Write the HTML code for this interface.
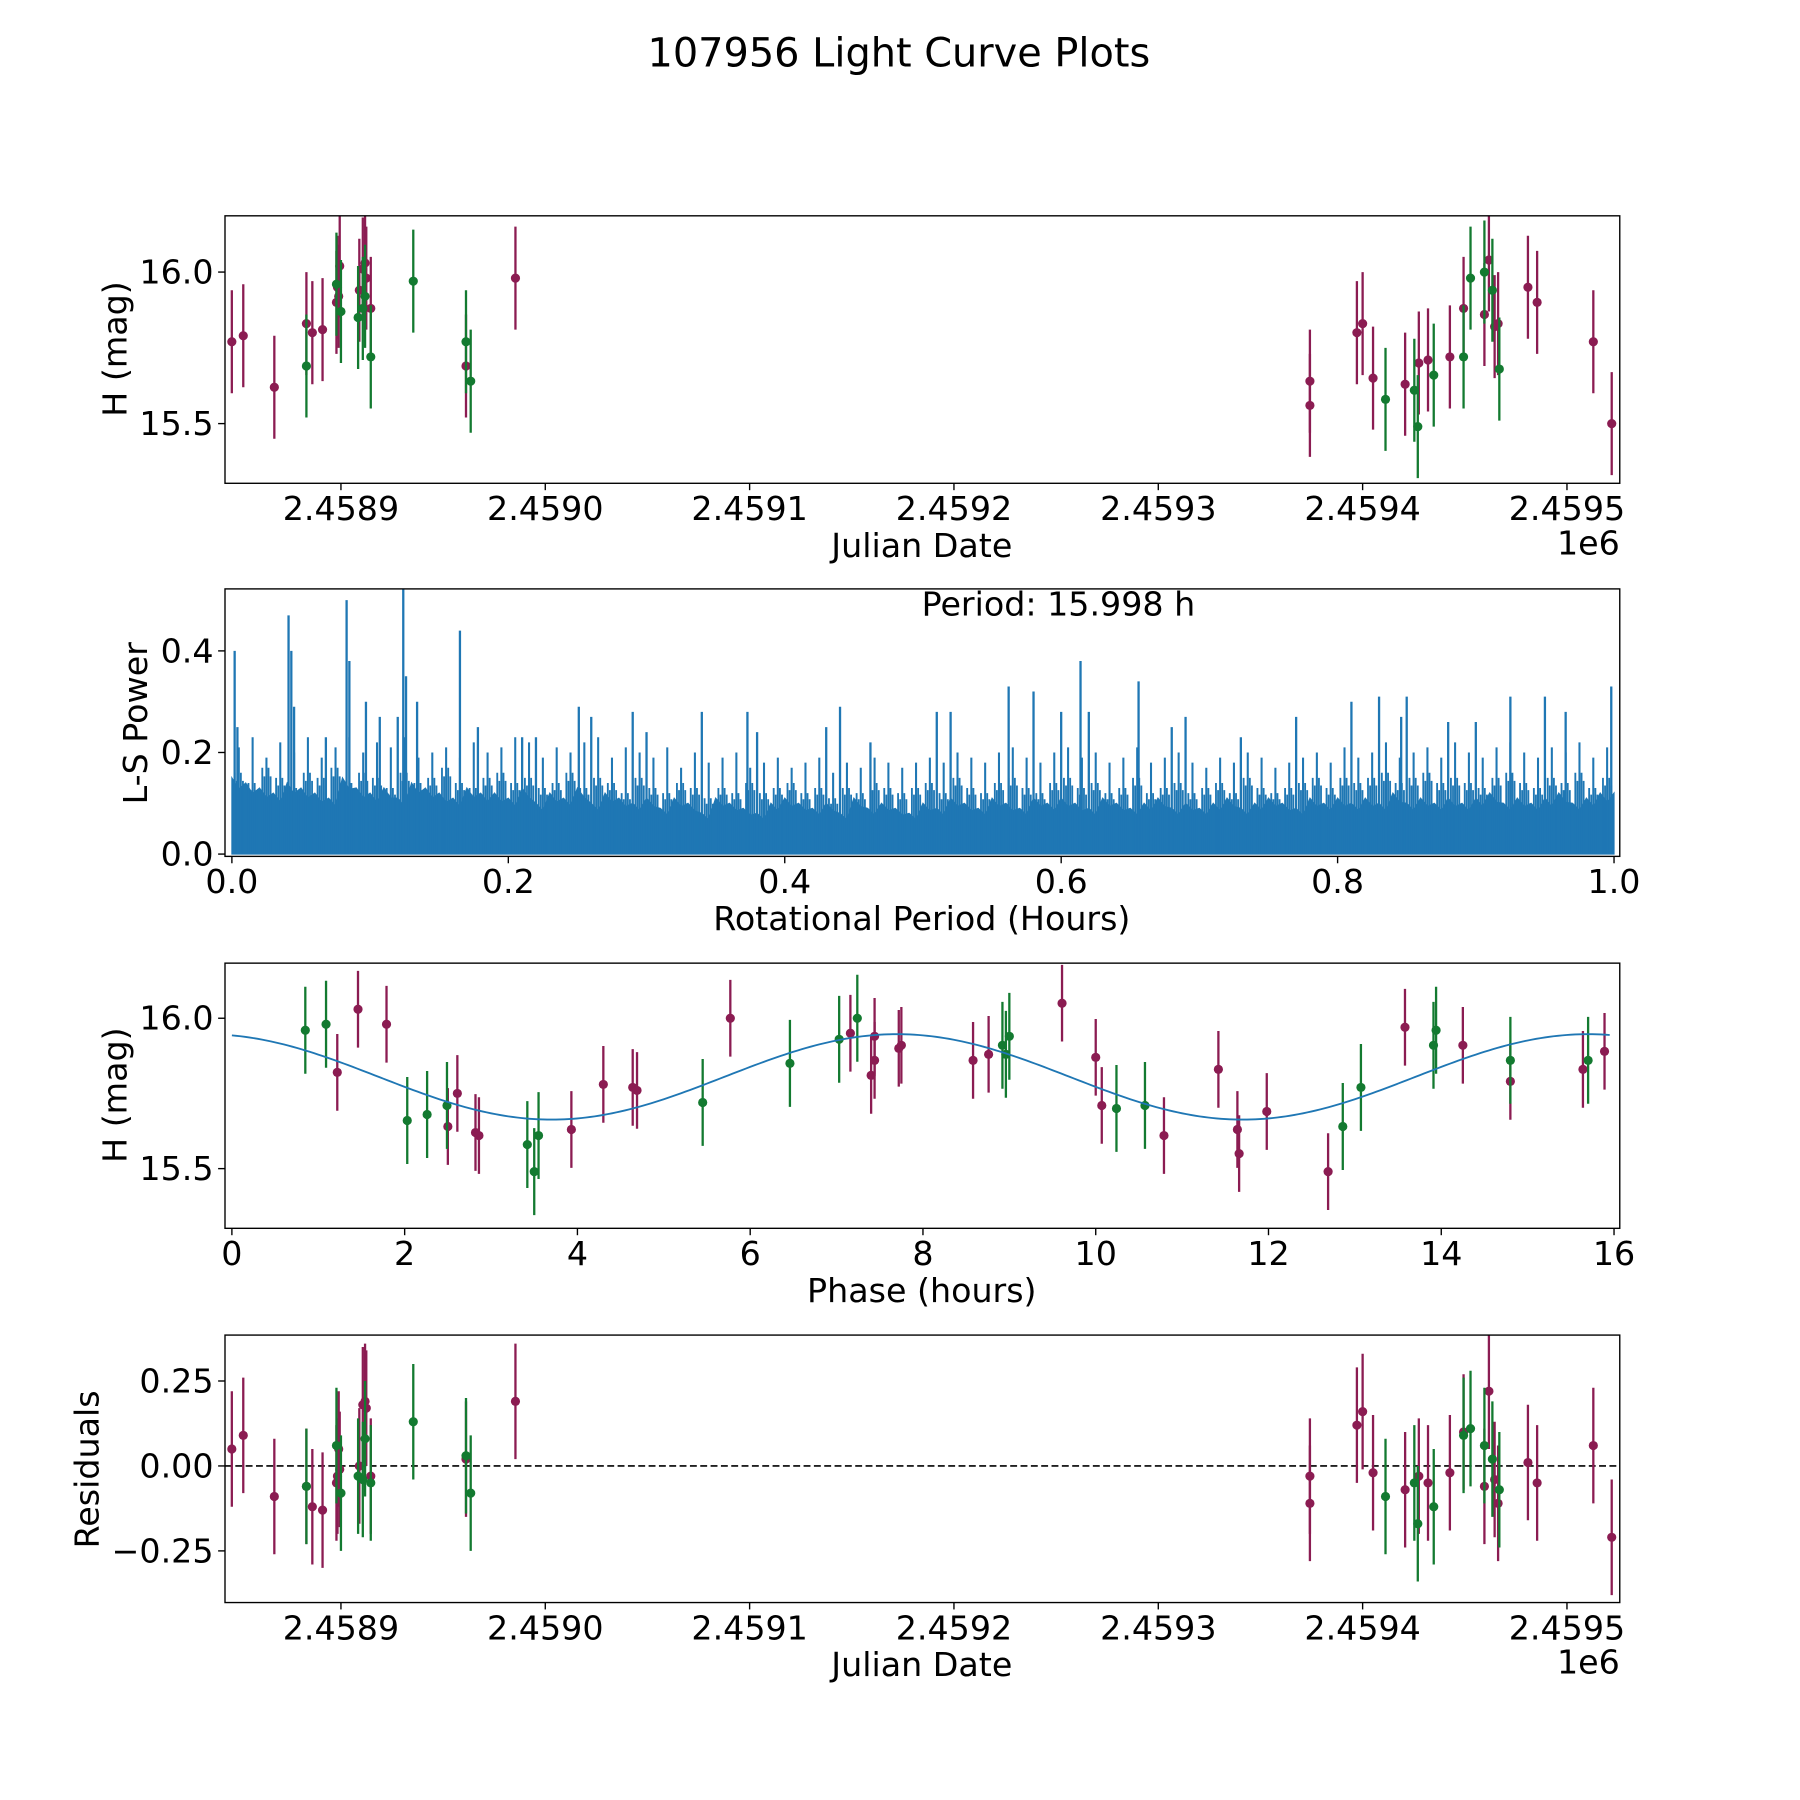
<!DOCTYPE html>
<html><head><meta charset="utf-8"><style>
html,body{margin:0;padding:0;background:#fff}
svg{display:block}
text{font-family:"DejaVu Sans","Liberation Sans",sans-serif;fill:#000}
</style></head><body>
<svg id="fig" width="1800" height="1800" viewBox="0 0 1568 1568" xmlns="http://www.w3.org/2000/svg">
<text x="783" y="58" font-size="34.7" text-anchor="middle">107956 Light Curve Plots</text>
</svg>
<script>
// ---- Data: light curve (JD, mag) ----
const jdMaroon=[2458846.6,2458852.2,2458867.4,2458883.1,2458886.0,2458891.0,2458897.8,2458898.3,2458898.9,2458899.4,2458909.0,2458910.7,2458911.8,2458912.4,2458914.6,2458961.2,2458985.4,2459374.2,2459374.2,2459397.2,2459400.0,2459405.1,2459420.8,2459427.5,2459432.0,2459442.7,2459449.4,2459459.6,2459461.8,2459464.6,2459466.3,2459480.9,2459485.4,2459512.9,2459521.9];
const magMaroon=[15.77,15.79,15.62,15.83,15.80,15.81,15.90,15.95,15.92,16.02,15.94,16.01,16.03,15.98,15.88,15.69,15.98,15.64,15.56,15.80,15.83,15.65,15.63,15.70,15.71,15.72,15.88,15.86,16.04,15.82,15.83,15.95,15.90,15.77,15.50];
const resMaroon=[0.05,0.09,-0.09,-0.06,-0.12,-0.13,-0.05,-0.03,0.05,-0.01,0.00,0.18,0.19,0.17,-0.03,0.02,0.19,-0.03,-0.11,0.12,0.16,-0.02,-0.07,-0.03,-0.05,-0.02,0.10,-0.06,0.22,-0.04,-0.11,0.01,-0.05,0.06,-0.21];
const jdGreen=[2458883.1,2458897.8,2458900.0,2458908.4,2458910.7,2458911.8,2458914.6,2458935.4,2458961.2,2458963.5,2459411.2,2459425.3,2459427.0,2459434.8,2459449.4,2459452.8,2459459.6,2459463.5,2459466.9];
const magGreen=[15.69,15.96,15.87,15.85,15.88,15.92,15.72,15.97,15.77,15.64,15.58,15.61,15.49,15.66,15.72,15.98,16.00,15.94,15.68];
const resGreen=[-0.06,0.06,-0.08,-0.03,-0.04,0.08,-0.05,0.13,0.03,-0.08,-0.09,-0.05,-0.17,-0.12,0.09,0.11,0.06,0.02,-0.07];
const errMag=0.17;
// ---- Data: phase-folded ----
const phMaroon=[1.22,1.46,1.79,2.82,2.50,2.61,2.86,3.93,4.30,4.64,4.69,5.77,7.16,7.40,7.44,7.44,7.72,7.75,8.58,8.76,9.61,10.00,10.07,10.79,11.42,11.64,11.66,11.98,12.69,13.58,14.25,14.80,15.64,15.89];
const pmagMaroon=[15.82,16.03,15.98,15.62,15.64,15.75,15.61,15.63,15.78,15.77,15.76,16.00,15.95,15.81,15.86,15.94,15.90,15.91,15.86,15.88,16.05,15.87,15.71,15.61,15.83,15.63,15.55,15.69,15.49,15.97,15.91,15.79,15.83,15.89];
const phGreen=[0.85,1.09,2.03,2.26,2.49,3.42,3.50,3.55,5.45,6.46,7.03,7.24,8.92,8.96,9.00,10.24,10.57,12.86,13.07,13.91,13.94,14.80,15.70];
const pmagGreen=[15.96,15.98,15.66,15.68,15.71,15.58,15.49,15.61,15.72,15.85,15.93,16.00,15.91,15.88,15.94,15.70,15.71,15.64,15.77,15.91,15.96,15.86,15.86];
const fitMean=15.805, fitAmp=0.142, fitPeak=7.7, fitCycle=8.0;
// ---- Data: periodogram ----
const lsBase=[0.15,0.14,0.13,0.12,0.14,0.13,0.12,0.11,0.15,0.13,0.12,0.13,0.11,0.14,0.13,0.12,0.11,0.13,0.12,0.12,0.11,0.13,0.10,0.12,0.11,0.13,0.10,0.12,0.11,0.10,0.11,0.09,0.11,0.10,0.08,0.11,0.10,0.09,0.08,0.10,0.11,0.10,0.09,0.10,0.08,0.11,0.09,0.10,0.09,0.08,0.10,0.09,0.11,0.10,0.09,0.11,0.10,0.09,0.11,0.10,0.11,0.10,0.09,0.11,0.10,0.09,0.10,0.11,0.09,0.10,0.09,0.10,0.11,0.09,0.10,0.11,0.10,0.09,0.11,0.10,0.11,0.10,0.11,0.10,0.12,0.10,0.11,0.10,0.11,0.10,0.11,0.12,0.10,0.11,0.10,0.11,0.12,0.10,0.11,0.12];
const lsMinor=[0.21,0.23,0.19,0.22,0.20,0.23,0.19,0.21,0.23,0.20,0.22,0.21,0.23,0.19,0.20,0.21,0.19,0.22,0.20,0.21,0.23,0.22,0.19,0.21,0.20,0.22,0.23,0.19,0.21,0.20,0.19,0.21,0.17,0.20,0.18,0.19,0.20,0.17,0.18,0.19,0.17,0.18,0.19,0.16,0.18,0.17,0.19,0.18,0.17,0.18,0.19,0.18,0.20,0.19,0.18,0.20,0.21,0.19,0.18,0.20,0.21,0.19,0.20,0.18,0.19,0.21,0.18,0.19,0.20,0.18,0.17,0.19,0.18,0.20,0.19,0.17,0.18,0.19,0.20,0.18,0.21,0.19,0.20,0.22,0.19,0.20,0.21,0.19,0.22,0.20,0.19,0.21,0.22,0.20,0.19,0.21,0.20,0.22,0.19,0.21];
const lsMid=[0.16,0.14,0.17,0.15,0.13,0.16,0.15,0.17,0.14,0.16,0.15,0.13,0.16,0.14,0.15,0.17,0.14,0.13,0.15,0.16,0.14,0.15,0.13,0.14,0.16,0.13,0.15,0.14,0.12,0.15,0.13,0.12,0.14,0.13,0.11,0.13,0.12,0.14,0.12,0.13,0.14,0.12,0.13,0.11,0.13,0.12,0.14,0.13,0.12,0.13,0.14,0.12,0.15,0.13,0.12,0.14,0.15,0.13,0.12,0.14,0.15,0.13,0.14,0.12,0.13,0.15,0.12,0.13,0.14,0.12,0.13,0.14,0.12,0.15,0.13,0.12,0.13,0.14,0.15,0.13,0.15,0.14,0.15,0.16,0.14,0.15,0.16,0.14,0.15,0.14,0.13,0.15,0.16,0.14,0.13,0.15,0.14,0.16,0.13,0.15];
const lsPeakX=[0.002,0.004,0.041,0.043,0.045,0.068,0.083,0.085,0.097,0.107,0.120,0.124,0.126,0.134,0.165,0.178,0.21,0.22,0.251,0.26,0.29,0.30,0.34,0.373,0.38,0.43,0.44,0.462,0.51,0.52,0.562,0.58,0.60,0.614,0.62,0.656,0.68,0.69,0.73,0.77,0.81,0.83,0.846,0.85,0.88,0.90,0.925,0.95,0.965,0.998];
const lsPeakY=[0.40,0.25,0.47,0.40,0.29,0.23,0.50,0.38,0.30,0.27,0.27,0.53,0.35,0.30,0.44,0.25,0.23,0.23,0.29,0.27,0.28,0.24,0.28,0.28,0.24,0.25,0.29,0.22,0.28,0.28,0.33,0.32,0.28,0.38,0.28,0.34,0.25,0.27,0.23,0.27,0.30,0.31,0.27,0.31,0.26,0.26,0.31,0.31,0.28,0.33];
const jdTicks=[2458900,2459000,2459100,2459200,2459300,2459400,2459500];
const jdTickLabels=["2.4589","2.4590","2.4591","2.4592","2.4593","2.4594","2.4595"];
const magTicks=[16.0,15.5], magTickLabels=["16.0","15.5"];
const lsXTicks=[0,0.2,0.4,0.6,0.8,1.0], lsXLabels=["0.0","0.2","0.4","0.6","0.8","1.0"];
const lsYTicks=[0,0.2,0.4], lsYLabels=["0.0","0.2","0.4"];
const phTicks=[0,2,4,6,8,10,12,14,16], phLabels=["0","2","4","6","8","10","12","14","16"];
const resTicks=[0.25,0,-0.25], resLabels=["0.25","0.00","\u22120.25"];

const NS="http://www.w3.org/2000/svg";
const svg=document.getElementById('fig');
const MAR="#8b1c52", GRN="#137a30", BLUE="#1f77b4";
const FS=29;
function mk(tag,attrs,parent){const e=document.createElementNS(NS,tag);for(const k in attrs)e.setAttribute(k,attrs[k]);(parent||svg).appendChild(e);return e;}
function lin(d0,d1,r0,r1){return v=>r0+(v-d0)*(r1-r0)/(d1-d0);}
const L=196,R=1411;
function frame(g,top,bot){const f=mk('rect',{x:L,y:top,width:R-L,height:bot-top,fill:'none',stroke:'#000','stroke-width':1.2},g);}
function xticks(g,xs,vals,labels,bot){vals.forEach((v,i)=>{const x=xs(v);mk('line',{x1:x,x2:x,y1:bot,y2:bot+6,stroke:'#000','stroke-width':1.2},g);const t=mk('text',{x:x,y:bot+32,'font-size':FS,'text-anchor':'middle'},g);t.textContent=labels[i];});}
function yticks(g,ys,vals,labels){vals.forEach((v,i)=>{const y=ys(v);mk('line',{x1:L-6,x2:L,y1:y,y2:y,stroke:'#000','stroke-width':1.2},g);const t=mk('text',{x:L-10,y:y+10,'font-size':FS,'text-anchor':'end'},g);t.textContent=labels[i];});}
function label(g,txt,x,y,rot,name){const t=mk('text',{x:x,y:y,'font-size':FS,'text-anchor':'middle',transform:rot?`rotate(-90 ${x} ${y})`:''},g);t.textContent=txt;}
function errpts(g,xs,ys,X,Y,err,color,name){X.forEach((xv,i)=>{const x=xs(xv),y=ys(Y[i]);mk('line',{x1:x,x2:x,y1:ys(Y[i]+err),y2:ys(Y[i]-err),stroke:color,'stroke-width':2},g);const c=mk('circle',{cx:x,cy:y,r:4,fill:color},g);});}
function clip(id,top,bot){const d=mk('defs',{});const cp=mk('clipPath',{id:id},d);mk('rect',{x:L,y:top,width:R-L,height:bot-top},cp);}

// Panel 1
(function(){const top=188,bot=421;const g=mk('g',{});
clip('c1',top,bot);const xs=lin(2458900,2459000,297,475),ys=lin(16.0,15.5,237,369);
const d=mk('g',{'clip-path':'url(#c1)'},g);
errpts(d,xs,ys,jdMaroon,magMaroon,errMag,MAR,'maroon-point');errpts(d,xs,ys,jdGreen,magGreen,errMag,GRN,'green-point');
frame(g,top,bot);xticks(g,xs,jdTicks,jdTickLabels,bot);yticks(g,ys,magTicks,magTickLabels);
label(g,'Julian Date',803,485,false,'x-axis-title');label(g,'H (mag)',110,304,true,'y-axis-title');
const o=mk('text',{x:1411,y:483,'font-size':FS,'text-anchor':'end'},g);o.textContent='1e6';})();

// Panel 2
(function(){const top=513,bot=746;const g=mk('g',{});
clip('c2',top,bot);const xs=lin(0,1,202,1406),ys=lin(0,0.4,744,567);
const d=mk('g',{'clip-path':'url(#c2)'},g);
let p=`M${xs(0)},${ys(0)}`;lsBase.forEach((v,i)=>{p+=` L${xs(i*0.01)},${ys(v)} L${xs(i*0.01+0.005)},${ys(v*0.85)}`;});p+=` L${xs(1)},${ys(lsBase[lsBase.length-1])} L${xs(1)},${ys(0)} Z`;
const a=mk('path',{d:p,fill:BLUE,stroke:BLUE,'stroke-width':1},d);
lsMid.forEach((v,i)=>{[0.002,0.0035,0.0065,0.008].forEach((off,k)=>{const x=xs(i*0.01+off);const l=mk('line',{x1:x,x2:x,y1:ys(0),y2:ys(v*(k%2?0.9:1)),stroke:BLUE,'stroke-width':1.6},d);});});
lsMinor.forEach((v,i)=>{const x=xs(i*0.01+0.005);const l=mk('line',{x1:x,x2:x,y1:ys(0),y2:ys(v),stroke:BLUE,'stroke-width':1.8},d);});
lsPeakX.forEach((xv,i)=>{const x=xs(xv);const l=mk('line',{x1:x,x2:x,y1:ys(0),y2:ys(lsPeakY[i]),stroke:BLUE,'stroke-width':2},d);});
frame(g,top,bot);xticks(g,xs,lsXTicks,lsXLabels,bot);yticks(g,ys,lsYTicks,lsYLabels);
label(g,'Rotational Period (Hours)',803,810,false,'x-axis-title');label(g,'L-S Power',128,630,true,'y-axis-title');
const t=mk('text',{x:922,y:536,'font-size':FS,'text-anchor':'middle'},g);t.textContent='Period: 15.998 h';})();

// Panel 3
(function(){const top=839,bot=1070;const g=mk('g',{});
clip('c3',top,bot);const xs=lin(0,16,202,1406),ys=lin(16.0,15.5,887,1018);
const d=mk('g',{'clip-path':'url(#c3)'},g);
errpts(d,xs,ys,phMaroon,pmagMaroon,errMag*0.75,MAR,'maroon-point');errpts(d,xs,ys,phGreen,pmagGreen,errMag*0.85,GRN,'green-point');
let p='';for(let t=0;t<=16;t+=0.05){const m=fitMean+fitAmp*Math.cos(2*Math.PI*(t-fitPeak)/fitCycle);p+=(p?' L':'M')+xs(t)+','+ys(m);}
const c=mk('path',{d:p,fill:'none',stroke:BLUE,'stroke-width':1.6},d);
frame(g,top,bot);xticks(g,xs,phTicks,phLabels,bot);yticks(g,ys,magTicks,magTickLabels);
label(g,'Phase (hours)',803,1134,false,'x-axis-title');label(g,'H (mag)',110,954,true,'y-axis-title');})();

// Panel 4
(function(){const top=1163,bot=1396;const g=mk('g',{});
clip('c4',top,bot);const xs=lin(2458900,2459000,297,475),ys=lin(0,0.25,1277,1203);
const d=mk('g',{'clip-path':'url(#c4)'},g);
const z=mk('line',{x1:L,x2:R,y1:ys(0),y2:ys(0),stroke:'#000','stroke-width':1.5,'stroke-dasharray':'6,3'},d);
errpts(d,xs,ys,jdMaroon,resMaroon,errMag,MAR,'maroon-residual');errpts(d,xs,ys,jdGreen,resGreen,errMag,GRN,'green-residual');
frame(g,top,bot);xticks(g,xs,jdTicks,jdTickLabels,bot);yticks(g,ys,resTicks,resLabels);
label(g,'Julian Date',803,1460,false,'x-axis-title');label(g,'Residuals',86,1280,true,'y-axis-title');
const o=mk('text',{x:1411,y:1458,'font-size':FS,'text-anchor':'end'},g);o.textContent='1e6';})();
</script>
</body></html>
